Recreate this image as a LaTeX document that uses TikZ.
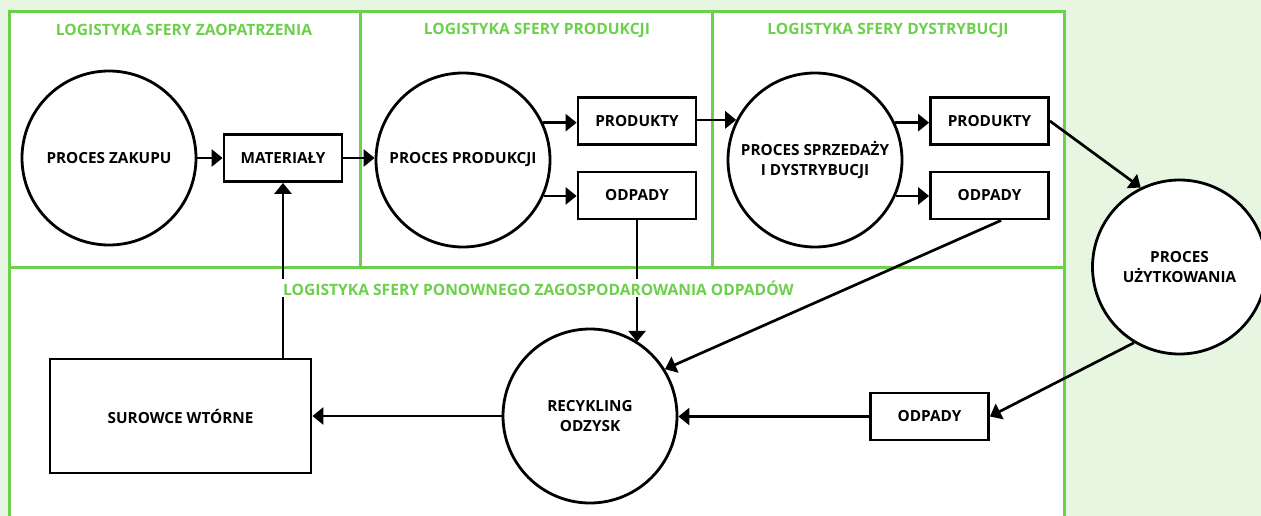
\documentclass[tikz,border=0pt]{standalone}
\usepackage{fontspec}
\setmainfont{Open Sans}
\usetikzlibrary{arrows.meta}
\definecolor{bgmint}{HTML}{E6F6E1}
\definecolor{zonegreen}{HTML}{6CD04C}

\begin{document}
\begin{tikzpicture}[x=1pt,y=-1pt,
  proc/.style={circle,draw=black,line width=2.8pt,fill=white,minimum size=174pt,
    inner sep=0pt,align=center,font=\bfseries\fontsize{15.3}{19.5}\selectfont},
  item/.style={rectangle,draw=black,line width=2.8pt,fill=white,minimum width=118pt,
    minimum height=47pt,inner sep=0pt,font=\bfseries\fontsize{15.3}{19.5}\selectfont},
  flow/.style={line width=2.7pt,-{Triangle[length=11pt,width=17pt]}},
  zone/.style={draw=zonegreen,line width=3pt},
  zonetitle/.style={text=zonegreen,fill=white,inner sep=2pt,
    font=\bfseries\fontsize{15.6}{18}\selectfont}
]
% page background and white working area
\fill[bgmint] (0,0) rectangle (1261,516);
\fill[white] (9,12) rectangle (1064,516);
\useasboundingbox (0,0) rectangle (1261,516);

% zone grid
\draw[zone] (9,516) -- (9,12) -- (1064,12) -- (1064,516);
\draw[zone] (360,12) -- (360,267);
\draw[zone] (712,12) -- (712,267);
\draw[zone] (9,267) -- (1064,267);

% zone titles
\node[zonetitle] (tz) at (184,30) {LOGISTYKA SFERY ZAOPATRZENIA};
\node[zonetitle] (tp) at (537,30) {LOGISTYKA SFERY PRODUKCJI};
\node[zonetitle] (td) at (888,30) {LOGISTYKA SFERY DYSTRYBUCJI};

% supply zone
\node[proc] (zakup) at (109,158) {PROCES ZAKUPU};
\node[item] (mat) at (283,158) {MATERIAŁY};

% production zone
\node[proc] (prodk) at (463,160) {PROCES PRODUKCJI};
\node[item] (prod1) at (637,121) {PRODUKTY};
\node[item] (odp1) at (637,195.5) {ODPADY};

% distribution zone
\node[proc] (sprz) at (815,160) {PROCES SPRZEDAŻY\\I DYSTRYBUCJI};
\node[item] (prod2) at (989.5,121) {PRODUKTY};
\node[item] (odp2) at (989.5,195.5) {ODPADY};

% usage
\node[proc] (uzyt) at (1179.5,267) {PROCES\\UŻYTKOWANIA};

% waste reuse zone
\node[proc] (recyk) at (590,416) {RECYKLING\\ODZYSK};
\node[item] (odp3) at (929.5,416.5) {ODPADY};
\node[item,minimum width=261pt,minimum height=114pt] (sur) at (180.5,416) {SUROWCE WTÓRNE};

% flows
\draw[flow] (zakup.east) -- (mat.west);
\draw[flow] (mat.east) -- (mat.east -| prodk.west);
\draw[flow] (prodk.25) -- (prodk.25 -| prod1.west);
\draw[flow] (prodk.-24.5) -- (prodk.-24.5 -| odp1.west);
\draw[flow] (sprz.153.4 -| prod1.east) -- (sprz.153.4);
\draw[flow] (sprz.25) -- (sprz.25 -| prod2.west);
\draw[flow] (sprz.-24.5) -- (sprz.-24.5 -| odp2.west);
\draw[flow] (prod2.east) -- (uzyt.116);
\draw[flow] (uzyt.239) -- (odp3.east);
\draw[flow] (odp3.west) -- (odp3.west -| recyk.east);
\draw[flow] (odp2.-65) -- (recyk.32);
\draw[flow] (odp1.south) -- (odp1.south |- recyk.57.3);
\draw[flow] (recyk.west) -- (recyk.west -| sur.east);
\draw[flow] (mat.south |- sur.north) -- (mat.south);

% title of the lower zone sits over the return flow
\node[zonetitle,anchor=west] (tr) at (281,288) {LOGISTYKA SFERY PONOWNEGO ZAGOSPODAROWANIA ODPADÓW};
\end{tikzpicture}
\end{document}
